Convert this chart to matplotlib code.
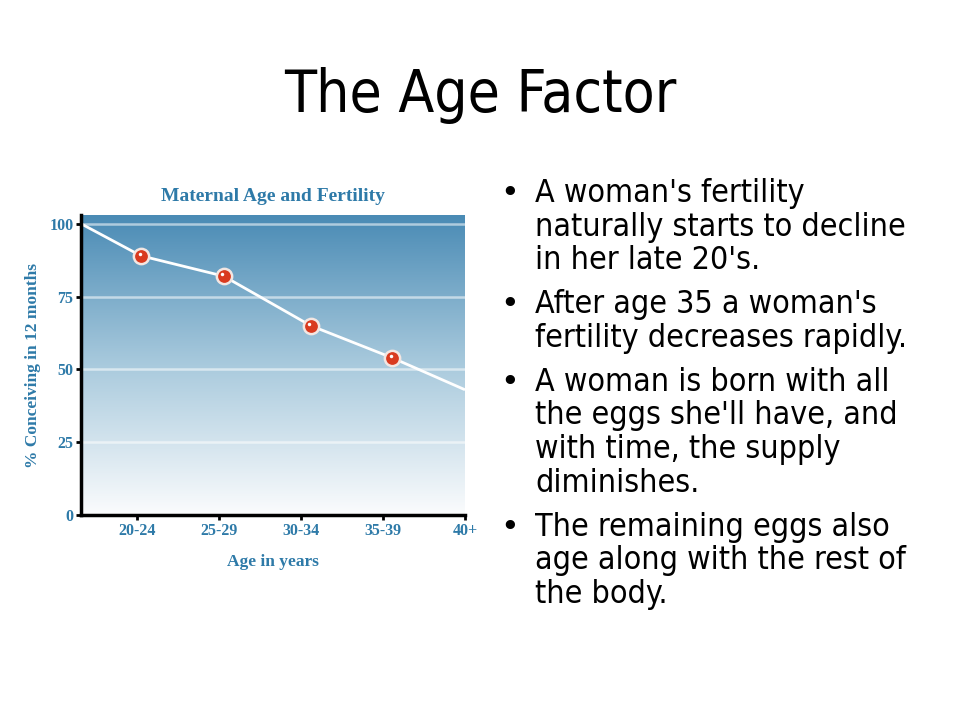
import numpy as np
import matplotlib
matplotlib.use("Agg")
import matplotlib.pyplot as plt
from matplotlib.colors import LinearSegmentedColormap
from matplotlib.transforms import offset_copy

# data
age_groups = ["20-24", "25-29", "30-34", "35-39", "40+"]
tick_pos = [1, 2, 3, 4, 5]
point_x = [1.05, 2.06, 3.12, 4.11]
point_y = [89, 82, 65, 54]
line_x = [0.32, 1.05, 2.06, 3.12, 4.11, 5]
line_y = [100, 89, 82, 65, 54, 43]
y_ticks = [0, 25, 50, 75, 100]

bullets = [
    ["A woman's fertility", "naturally starts to decline", "in her late 20's."],
    ["After age 35 a woman's", "fertility decreases rapidly."],
    ["A woman is born with all", "the eggs she'll have, and", "with time, the supply", "diminishes."],
    ["The remaining eggs also", "age along with the rest of", "the body."],
]

chart_blue = "#2e7aa8"
serif = ["Liberation Serif", "DejaVu Serif"]
sans = ["DejaVu Sans"]

fig = plt.figure(figsize=(9.6, 7.2), dpi=100)
fig.patch.set_facecolor("white")

fig.text(0.5, 1 - 112 / 720, "The Age Factor", ha="center", va="baseline",
         fontsize=42, family=sans, fontstretch="condensed")

# chart
ax = fig.add_axes([81 / 960, 1 - 515 / 720, 384 / 960, 300 / 720])
ax.set_xlim(0.32, 5)
ax.set_ylim(0, 103)

cmap = LinearSegmentedColormap.from_list("bg", ["#fbfcfd", "#a9cadd", "#4a8bb5"])
grad = np.linspace(0, 1, 256).reshape(-1, 1)
ax.imshow(grad, cmap=cmap, origin="lower", extent=[0, 1, 0, 1],
          transform=ax.transAxes, aspect="auto", zorder=0)

for v in y_ticks[1:]:
    ax.axhline(v, color="white", alpha=0.55, lw=1.8, zorder=1)

ax.plot(line_x, line_y, color="white", lw=2, zorder=2, solid_capstyle="butt")
ax.plot(point_x, point_y, "o", ms=11, mfc="#d93a1f", mec="#f3e6e2", mew=1.8, zorder=3)
hl = offset_copy(ax.transData, fig=fig, x=-1, y=1.5, units="points")
ax.plot(point_x, point_y, "o", ms=2.5, mfc="white", mec="none", zorder=4, transform=hl)

for s in ["top", "right"]:
    ax.spines[s].set_visible(False)
for s in ["left", "bottom"]:
    ax.spines[s].set_linewidth(2.5)
    ax.spines[s].set_color("black")

ax.set_xticks(tick_pos)
ax.set_xticklabels(age_groups)
ax.set_yticks(y_ticks)
ax.tick_params(axis="both", length=3.5, width=2, color="black", labelcolor=chart_blue,
               labelsize=11.5, pad=2)
for lab in ax.get_xticklabels() + ax.get_yticklabels():
    lab.set_family(serif)
    lab.set_fontweight("bold")

ax.set_xlabel("Age in years", family=serif, fontweight="bold", color=chart_blue,
              fontsize=12.5, labelpad=11)
ax.set_ylabel("% Conceiving in 12 months", family=serif, fontweight="bold",
              color=chart_blue, fontsize=12.5, labelpad=6)
ax.set_title("Maternal Age and Fertility", family=serif, fontweight="bold",
             color=chart_blue, fontsize=14, pad=10)

# bullet list
y = 202
for item in bullets:
    fig.text(500 / 960, 1 - y / 720, "\u2022", fontsize=23, va="baseline", ha="left",
             family=sans)
    for line in item:
        fig.text(535 / 960, 1 - y / 720, line, fontsize=23, va="baseline", ha="left",
                 family=sans, fontstretch="condensed")
        y += 33.6
    y += 10.4

fig.savefig("out.png", dpi=100)
